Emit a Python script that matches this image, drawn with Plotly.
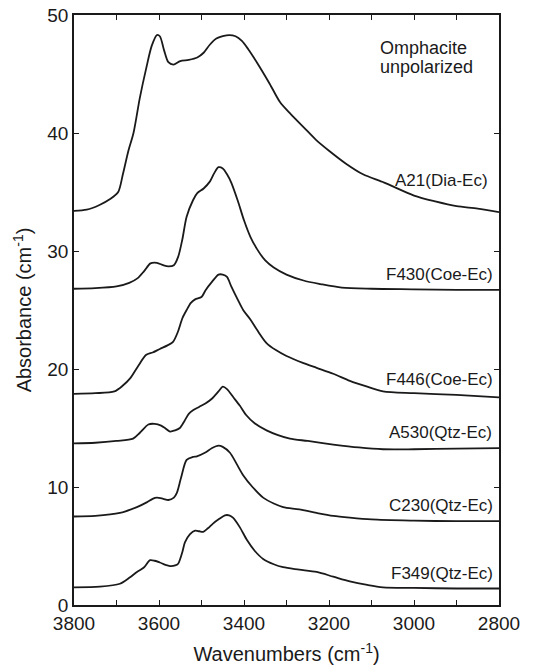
import plotly.graph_objects as go

# ---- data ----
a21_x = [3800,3770,3740,3715,3696,3685,3672,3660,3645,3630,3617,3605,3598,3588,3578,3566,3550,3530,3510,3495,3480,3465,3450,3435,3420,3405,3390,3370,3340,3315,3290,3260,3230,3200,3160,3120,3070,3000,2950,2900,2850,2800]
a21_y = [33.4,33.5,33.9,34.4,35.0,36.5,38.5,40.0,43.0,45.5,47.4,48.3,48.2,47.0,46.0,45.8,46.1,46.2,46.4,46.8,47.5,48.0,48.2,48.3,48.2,47.8,47.1,46.0,44.2,42.6,41.6,40.5,39.4,38.5,37.4,36.5,35.8,34.7,34.2,33.8,33.6,33.3]

f430_x = [3800,3750,3700,3670,3650,3635,3620,3605,3590,3578,3565,3555,3545,3535,3520,3510,3495,3480,3470,3460,3450,3440,3430,3415,3400,3385,3370,3350,3330,3300,3260,3220,3170,3100,3000,2900,2800]
f430_y = [26.8,26.85,27.0,27.3,27.7,28.3,28.95,29.0,28.8,28.7,28.8,29.5,31.0,32.9,34.3,34.9,35.3,35.9,36.6,37.1,37.0,36.5,35.8,34.3,32.6,31.2,30.2,29.2,28.6,28.0,27.5,27.2,26.9,26.8,26.75,26.7,26.7]

f446_x = [3800,3750,3705,3685,3668,3650,3630,3615,3598,3580,3567,3555,3545,3535,3525,3515,3500,3490,3475,3460,3450,3440,3430,3415,3402,3385,3369,3347,3325,3300,3260,3229,3190,3151,3110,3073,3000,2900,2800]
f446_y = [17.9,17.95,18.1,18.6,19.2,20.2,21.2,21.4,21.7,22.0,22.3,23.2,24.3,25.0,25.6,25.9,26.1,26.7,27.4,28.0,28.0,27.8,27.0,25.9,25.0,24.2,23.3,22.2,21.6,21.1,20.5,20.1,19.6,19.0,18.5,18.1,17.95,17.8,17.6]

a530_x = [3800,3750,3700,3661,3645,3625,3610,3595,3586,3574,3562,3551,3540,3530,3520,3505,3490,3475,3460,3450,3440,3425,3410,3395,3375,3347,3320,3292,3250,3190,3130,3073,3000,2900,2800]
a530_y = [13.7,13.75,13.9,14.1,14.6,15.3,15.35,15.2,15.0,14.7,14.8,15.0,15.6,16.2,16.5,16.8,17.1,17.5,18.1,18.5,18.3,17.6,16.9,16.1,15.4,14.8,14.4,14.1,13.9,13.6,13.35,13.2,13.2,13.25,13.3]

c230_x = [3800,3750,3692,3652,3629,3615,3605,3590,3578,3565,3558,3548,3535,3520,3511,3492,3475,3460,3450,3433,3418,3402,3380,3355,3330,3308,3270,3229,3190,3151,3100,3000,2900,2800]
c230_y = [7.5,7.55,7.8,8.3,8.7,9.0,9.1,9.0,8.9,9.1,9.5,10.8,12.3,12.55,12.6,12.9,13.3,13.5,13.4,12.9,12.0,11.0,10.0,9.1,8.6,8.3,8.1,7.8,7.55,7.4,7.25,7.15,7.1,7.1]

f349_x = [3800,3739,3692,3670,3652,3635,3621,3610,3598,3585,3574,3562,3555,3545,3539,3527,3515,3505,3496,3485,3473,3458,3445,3435,3426,3410,3393,3375,3355,3330,3308,3270,3229,3190,3151,3110,3073,3000,2900,2800]
f349_y = [1.5,1.55,1.8,2.3,2.8,3.2,3.8,3.75,3.6,3.4,3.3,3.35,3.5,4.5,5.3,6.0,6.3,6.25,6.2,6.5,6.9,7.3,7.6,7.6,7.4,6.6,5.5,4.6,3.9,3.45,3.2,3.0,2.8,2.4,2.0,1.7,1.5,1.45,1.4,1.4]

sample_names = ["A21(Dia-Ec)", "F430(Coe-Ec)", "F446(Coe-Ec)", "A530(Qtz-Ec)", "C230(Qtz-Ec)", "F349(Qtz-Ec)"]
label_y = [36.0, 28.0, 19.1, 14.6, 8.4, 2.7]
label_x = [2821, 2809, 2809, 2812, 2809, 2809]

note_lines = ["Omphacite", "unpolarized"]
note_y = [47.2, 45.6]
note_x = 3085

x_ticks = [3800, 3600, 3400, 3200, 3000, 2800]
y_ticks = [0, 10, 20, 30, 40, 50]

series = [(a21_x, a21_y), (f430_x, f430_y), (f446_x, f446_y),
          (a530_x, a530_y), (c230_x, c230_y), (f349_x, f349_y)]

FONT = "Liberation Sans, Arial, Helvetica, sans-serif"
INK = "#1a1a1a"

fig = go.Figure()
for (xs, ys), name in zip(series, sample_names):
    fig.add_trace(go.Scatter(x=xs, y=ys, mode="lines", name=name,
                             line=dict(color=INK, width=1.8, shape="spline", smoothing=0.8),
                             showlegend=False, hoverinfo="skip"))

for name, lx, ly in zip(sample_names, label_x, label_y):
    fig.add_annotation(x=lx, y=ly, text=name, showarrow=False,
                       xanchor="right", yanchor="middle",
                       font=dict(family=FONT, size=17, color=INK))

for line_text, ny in zip(note_lines, note_y):
    fig.add_annotation(x=note_x, y=ny, text=line_text, showarrow=False,
                       xanchor="left", yanchor="middle", align="left",
                       font=dict(family=FONT, size=18, color=INK))

axis_common = dict(showline=True, linecolor=INK, linewidth=1.5, mirror="ticks",
                   ticks="inside", ticklen=5, tickwidth=1.2, tickcolor=INK,
                   showgrid=False, zeroline=False, ticklabeloverflow="allow",
                   tickfont=dict(family=FONT, size=19, color=INK))

fig.update_xaxes(range=[3800, 2800], tickvals=x_ticks,
                 minor=dict(dtick=100, ticks="inside", ticklen=5, tickwidth=1.2, tickcolor=INK, showgrid=False),
                 title=dict(text="Wavenumbers (cm<sup>-1</sup>)", font=dict(family=FONT, size=20, color=INK), standoff=20),
                 **axis_common)
fig.update_yaxes(range=[0, 50], tickvals=y_ticks,
                 title=dict(text="Absorbance (cm<sup>-1</sup>)", font=dict(family=FONT, size=20, color=INK), standoff=10),
                 **axis_common)

# page body has an 8px margin, so the figure is slightly smaller than the window
fig.update_layout(width=546, height=657,
                  margin=dict(l=66, r=55, t=7, b=60, autoexpand=False),
                  paper_bgcolor="white", plot_bgcolor="white")

fig.write_html("out.html")
